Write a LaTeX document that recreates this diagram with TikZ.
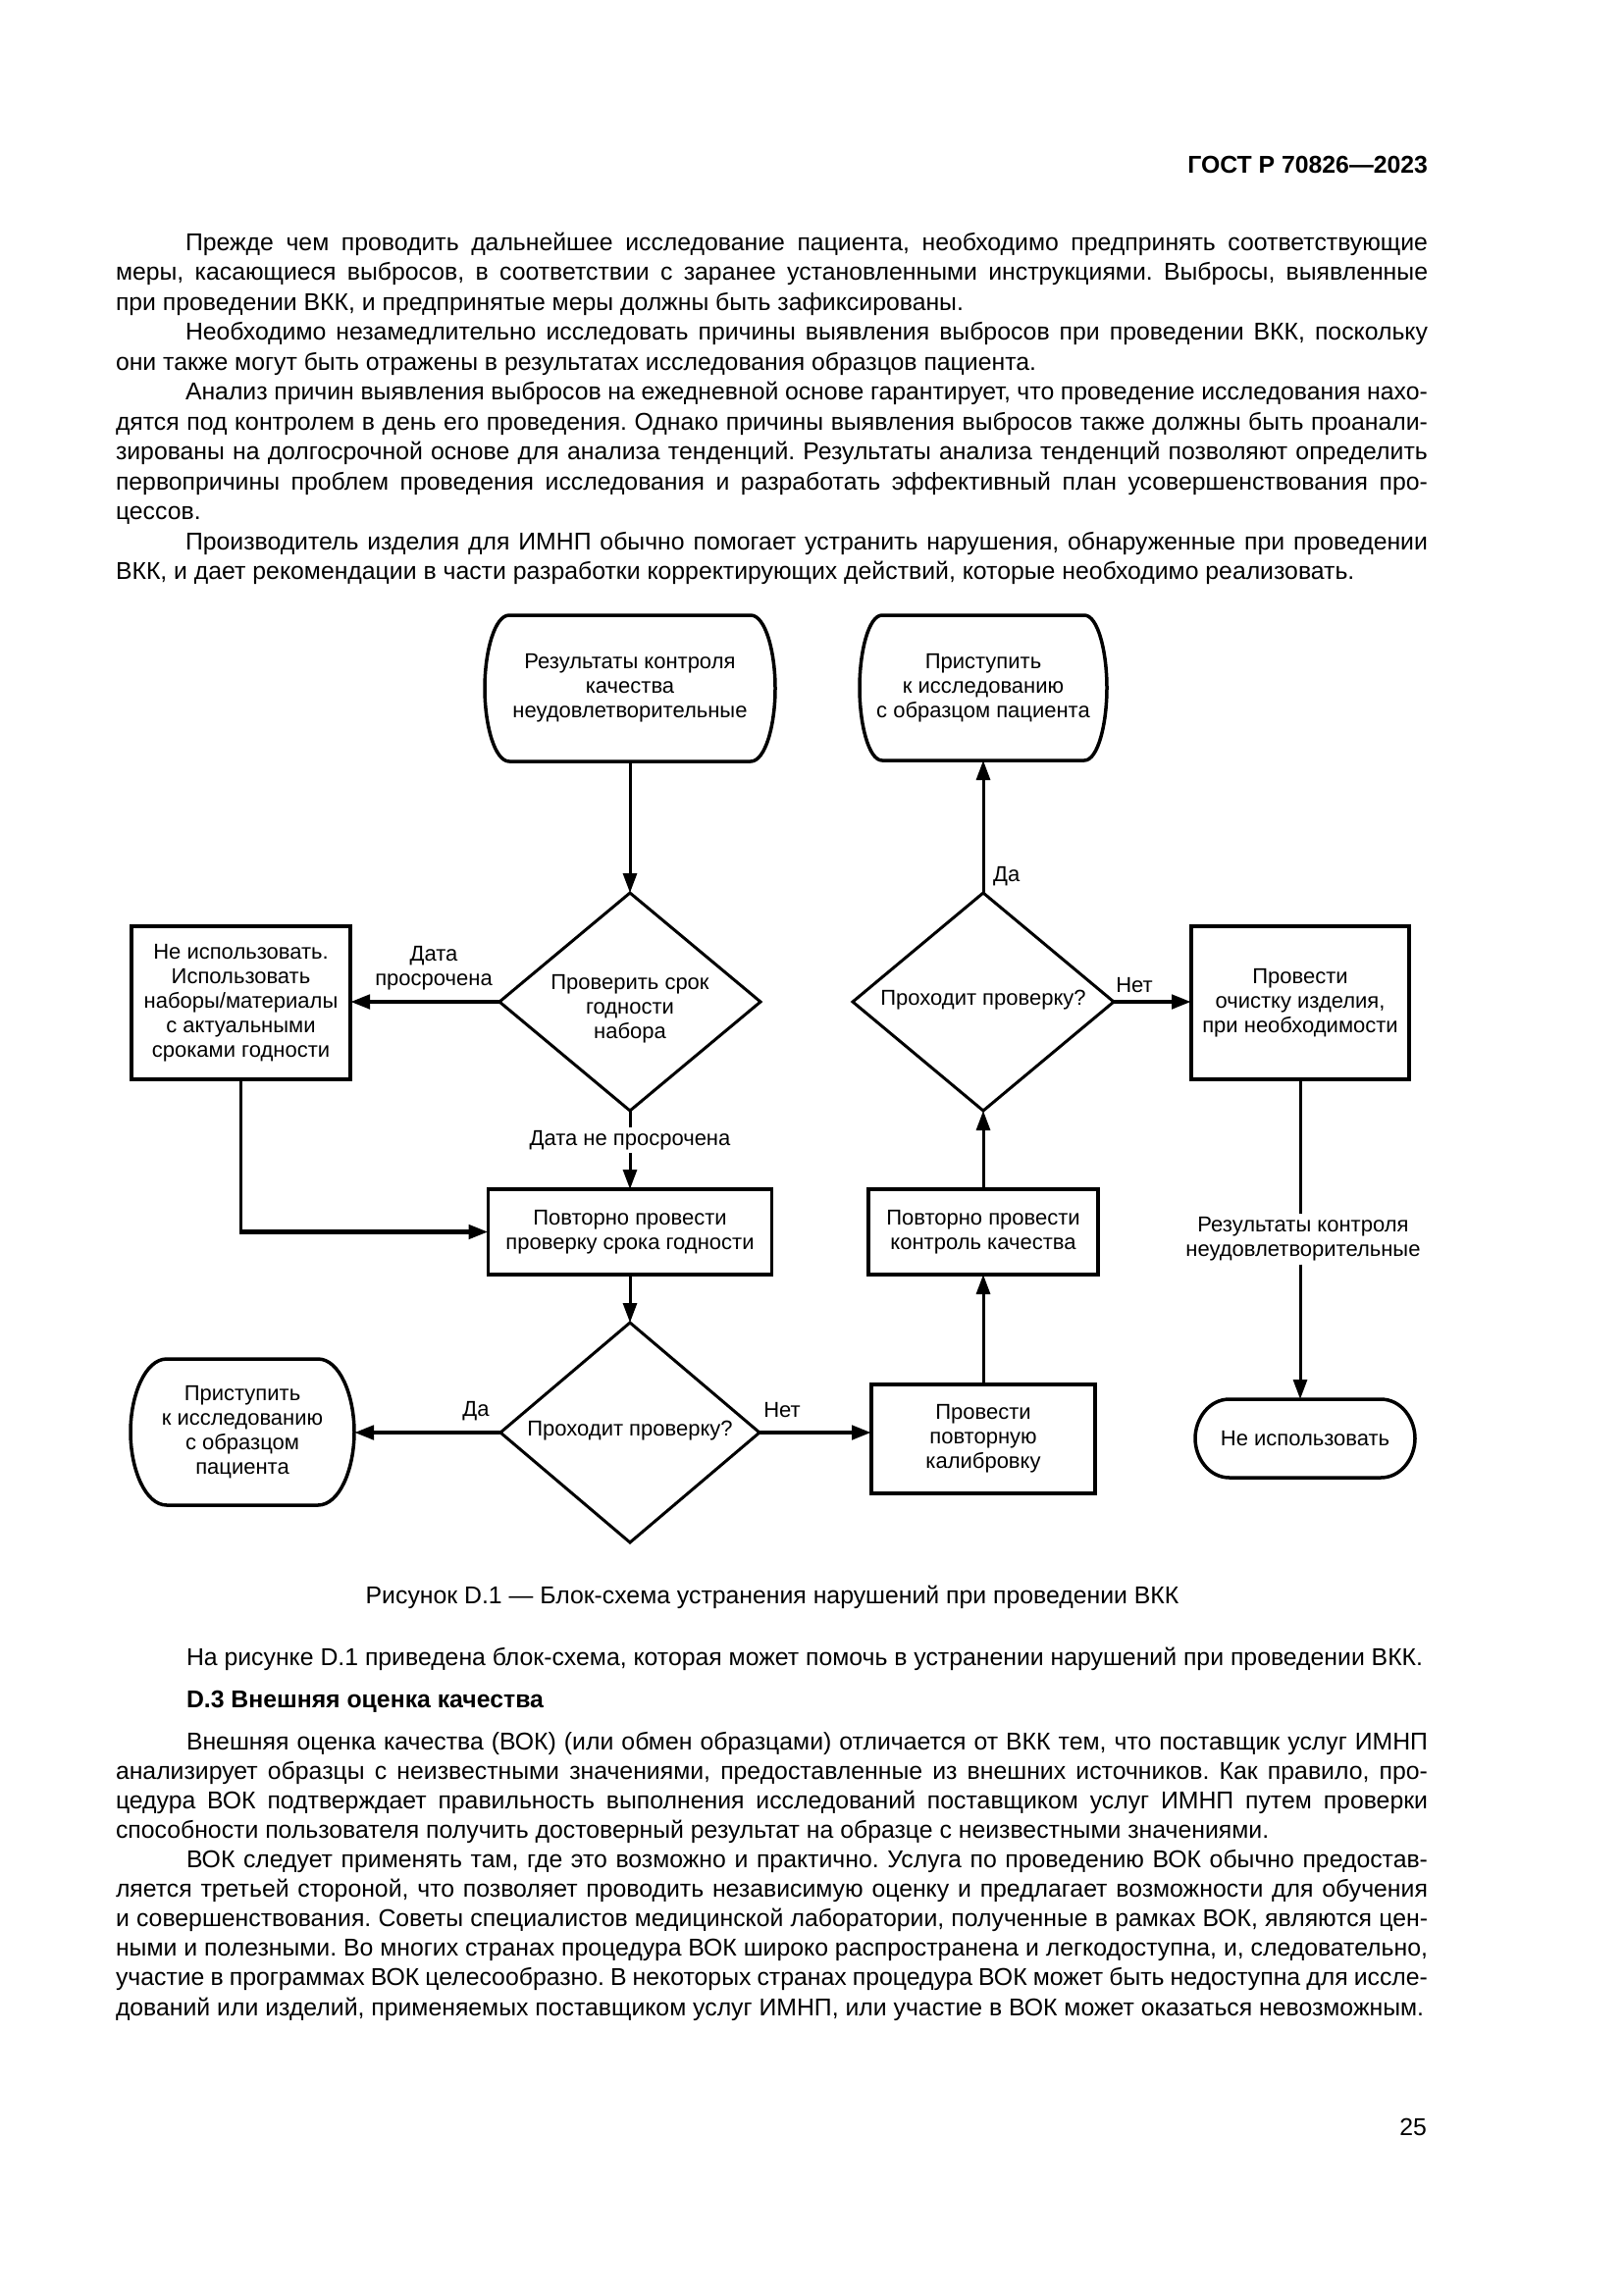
\documentclass[tikz,border=0pt]{standalone}
\usepackage{fontspec}
\setmainfont{Liberation Sans}
\usetikzlibrary{arrows.meta,shapes.geometric,calc}
\newcommand\ftxt{\fontsize{22}{25}\selectfont}
\newcommand\btxt{\fontsize{24.8}{30.5}\selectfont\frenchspacing}
\tikzset{
  body/.style={anchor=base west,inner sep=0pt,outer sep=0pt,font=\btxt},
  boxnode/.style={draw,line width=3.8pt,rectangle,inner sep=0pt,outer sep=0pt,align=center,font=\ftxt},
  termnode/.style={rectangle,inner sep=0pt,outer sep=0pt,align=center,font=\ftxt},
  tline/.style={line width=3.5pt,line join=round},
  dianode/.style={draw,diamond,line width=3pt,inner sep=0pt,outer sep=0pt},
  ftext/.style={inner sep=0pt,align=center,font=\ftxt},
  lab/.style={inner sep=3pt,align=center,font=\ftxt},
  vl/.style={line width=3pt},
  hl/.style={line width=4.5pt},
  arr/.style={-{Triangle[length=20pt,width=14pt]}}
}
\newcommand\jline[5]{\node[body] (#1) at (#2,#3) {\makebox[#4pt][s]{#5}};}
\newcommand\nline[4]{\node[body] (#1) at (#2,#3) {#4};}
\newcommand\termout[2]{%
  \draw[tline] ([xshift=#2pt]#1.north west) -- ([xshift=-#2pt]#1.north east)
   .. controls ([xshift=-0.4*#2pt]#1.north east) and ($(#1.north east)!0.25!(#1.south east)$) .. (#1.east)
   .. controls ($(#1.north east)!0.75!(#1.south east)$) and ([xshift=-0.4*#2pt]#1.south east) .. ([xshift=-#2pt]#1.south east)
   -- ([xshift=#2pt]#1.south west)
   .. controls ([xshift=0.4*#2pt]#1.south west) and ($(#1.north west)!0.75!(#1.south west)$) .. (#1.west)
   .. controls ($(#1.north west)!0.25!(#1.south west)$) and ([xshift=0.4*#2pt]#1.north west) .. cycle;}
\begin{document}
\begin{tikzpicture}[x=1pt,y=-1pt]
\useasboundingbox (0,0) rectangle (1654,2339);
\fill[white] (0,0) rectangle (1654,2339);

% header
\node[body,anchor=base east,font=\bfseries\btxt] (hdr) at (1455,176) {ГОСТ Р 70826—2023};

% top text
\jline{p1a}{189}{255}{1266}{Прежде чем проводить дальнейшее исследование пациента, необходимо предпринять соответствующие}
\jline{p1b}{118}{285.5}{1337}{меры, касающиеся выбросов, в соответствии с заранее установленными инструкциями. Выбросы, выявленные}
\nline{p1c}{118}{316}{при проведении ВКК, и предпринятые меры должны быть зафиксированы.}
\jline{p2a}{189}{346.5}{1266}{Необходимо незамедлительно исследовать причины выявления выбросов при проведении ВКК, поскольку}
\nline{p2b}{118}{377}{они также могут быть отражены в результатах исследования образцов пациента.}
\jline{p3a}{189}{407.5}{1266}{Анализ причин выявления выбросов на ежедневной основе гарантирует, что проведение исследования нахо-}
\jline{p3b}{118}{438}{1337}{дятся под контролем в день его проведения. Однако причины выявления выбросов также должны быть проанали-}
\jline{p3c}{118}{468.5}{1337}{зированы на долгосрочной основе для анализа тенденций. Результаты анализа тенденций позволяют определить}
\jline{p3d}{118}{499}{1337}{первопричины проблем проведения исследования и разработать эффективный план усовершенствования про-}
\nline{p3e}{118}{529.5}{цессов.}
\jline{p4a}{189}{560}{1266}{Производитель изделия для ИМНП обычно помогает устранить нарушения, обнаруженные при проведении}
\nline{p4b}{118}{590.5}{ВКК, и дает рекомендации в части разработки корректирующих действий, которые необходимо реализовать.}

% flowchart nodes
\node[termnode,minimum width=296pt,minimum height=149pt] (t1) at (642,701.5) {Результаты контроля\\качества\\неудовлетворительные};
\node[termnode,minimum width=252pt,minimum height=148pt] (t2) at (1002,701) {Приступить\\к исследованию\\с образцом пациента};
\node[dianode,minimum width=266pt,minimum height=222pt] (d1) at (642,1021) {};
\node[ftext] (d1t) at (642,1028) {Проверить срок\\годности\\набора};
\node[dianode,minimum width=266pt,minimum height=222pt] (d2) at (1002,1021) {};
\node[ftext] (d2t) at (1002,1019) {Проходит проверку?};
\node[boxnode,minimum width=223pt,minimum height=156pt] (bl) at (245.5,1022) {Не использовать.\\Использовать\\наборы/материалы\\с актуальными\\сроками годности};
\node[boxnode,minimum width=222pt,minimum height=156pt] (br) at (1325,1022) {Провести\\очистку изделия,\\при необходимости};
\node[boxnode,minimum width=289pt,minimum height=87pt] (b1) at (642,1255.5) {Повторно провести\\проверку срока годности};
\node[boxnode,minimum width=234pt,minimum height=87pt] (b2) at (1002,1255.5) {Повторно провести\\контроль качества};
\node[dianode,minimum width=264pt,minimum height=224pt] (d3) at (642,1460) {};
\node[ftext] (d3t) at (642,1458) {Проходит проверку?};
\node[boxnode,minimum width=228pt,minimum height=111pt] (b3) at (1002,1466.5) {Провести\\повторную\\калибровку};
\node[termnode,minimum width=228pt,minimum height=149pt] (t3) at (247,1459.5) {Приступить\\к исследованию\\с образцом\\пациента};
\node[termnode,minimum width=224pt,minimum height=80pt] (t4) at (1330,1466) {Не использовать};

\termout{t1}{25}
\termout{t2}{23}
\termout{t3}{37}
\termout{t4}{35}

% labels
\node[lab] (l1) at (442,987) {Дата\\просрочена};
\node[lab] (l2) at (642,1162) {Дата не просрочена};
\node[lab,inner sep=0pt,anchor=west] (l3) at (1012,893) {Да};
\node[lab,inner sep=0pt] (l4) at (1156,1004) {Нет};
\node[lab,inner sep=0pt] (l5) at (485,1438) {Да};
\node[lab,inner sep=0pt] (l6) at (797,1437) {Нет};
\node[lab] (l7) at (1328,1263) {Результаты контроля\\неудовлетворительные};

% connectors
\draw[vl,arr] (t1.south) -- (d1.north);
\draw[hl,arr] (d1.west) -- (d1.west -| bl.east);
\draw[vl] (d1.south) -- (l2.north);
\draw[vl,arr] (l2.south) -- (b1.north);
\coordinate (c1) at (bl.south |- b1.west);
\draw[vl] (bl.south) -- ($(c1)+(0,2.25)$);
\draw[hl,arr] ($(c1)+(-1.5,0)$) -- (b1.west);
\draw[vl,arr] (b1.south) -- (d3.north);
\draw[hl,arr] (d3.west) -- (d3.west -| t3.east);
\draw[hl,arr] (d3.east) -- (d3.east -| b3.west);
\draw[vl,arr] (b3.north) -- (b2.south);
\draw[vl,arr] (b2.north) -- (d2.south);
\draw[vl,arr] (d2.north) -- (t2.south);
\draw[hl,arr] (d2.east) -- (d2.east -| br.west);
\coordinate (c2) at (l7.north -| br.south);
\coordinate (c3) at (l7.south -| br.south);
\coordinate (c4) at (t4.north -| br.south);
\draw[vl] (br.south) -- (c2);
\draw[vl,arr] (c3) -- (c4);

% caption and lower text
\node[body,anchor=base] (cap) at (787,1634) {Рисунок D.1 — Блок-схема устранения нарушений при проведении ВКК};
\nline{q0}{190}{1697}{На рисунке D.1 приведена блок-схема, которая может помочь в устранении нарушений при проведении ВКК.}
\node[body,font=\bfseries\btxt] (q00) at (190,1740) {D.3 Внешняя оценка качества};
\jline{q1a}{190}{1783}{1265}{Внешняя оценка качества (ВОК) (или обмен образцами) отличается от ВКК тем, что поставщик услуг ИМНП}
\jline{q1b}{118}{1813.1}{1337}{анализирует образцы с неизвестными значениями, предоставленные из внешних источников. Как правило, про-}
\jline{q1c}{118}{1843.2}{1337}{цедура ВОК подтверждает правильность выполнения исследований поставщиком услуг ИМНП путем проверки}
\nline{q1d}{118}{1873.3}{способности пользователя получить достоверный результат на образце с неизвестными значениями.}
\jline{q2a}{190}{1903.4}{1265}{ВОК следует применять там, где это возможно и практично. Услуга по проведению ВОК обычно предостав-}
\jline{q2b}{118}{1933.5}{1337}{ляется третьей стороной, что позволяет проводить независимую оценку и предлагает возможности для обучения}
\jline{q2c}{118}{1963.6}{1337}{и совершенствования. Советы специалистов медицинской лаборатории, полученные в рамках ВОК, являются цен-}
\jline{q2d}{118}{1993.7}{1337}{ными и полезными. Во многих странах процедура ВОК широко распространена и легкодоступна, и, следовательно,}
\jline{q2e}{118}{2023.8}{1337}{участие в программах ВОК целесообразно. В некоторых странах процедура ВОК может быть недоступна для иссле-}
\nline{q2f}{118}{2054}{дований или изделий, применяемых поставщиком услуг ИМНП, или участие в ВОК может оказаться невозможным.}
\node[body,anchor=base east] (pg) at (1454,2176) {25};
\end{tikzpicture}
\end{document}
